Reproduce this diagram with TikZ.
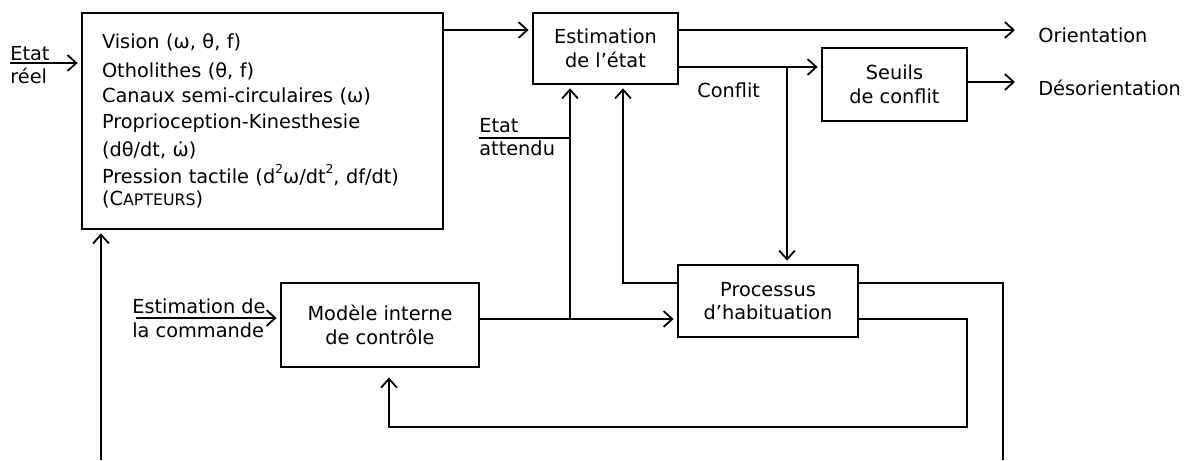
\documentclass[tikz,border=0pt]{standalone}
\usepackage{fontspec}
\setmainfont{DejaVu Sans}
\usetikzlibrary{arrows.meta}
\newcommand{\expo}[1]{\raisebox{0.5em}{\fontsize{7}{8}\selectfont #1}}
\begin{document}
\begin{tikzpicture}[x=0.02cm,y=-0.02cm]
        \tikzset{bloc/.style={draw, line width=1pt, align=center, inner sep=0pt, font=\fontsize{11}{13.5}\selectfont},
                 fleche/.style={line width=1pt, -{Straight Barb[length=5pt,width=9pt]}, shorten >=2pt},
                 texte/.style={inner sep=0pt, font=\fontsize{11}{13.5}\selectfont}}
        \useasboundingbox (0,0) rectangle (1189,460);

        \node [bloc, minimum width=7.22cm, minimum height=4.32cm, text width=6.42cm, align=left, font=\fontsize{11}{14.5}\selectfont] (capteurs) at (262.5,121)
          {Vision (ω, θ, f)\\[1.5pt]
           Otholithes (θ, f)\\
           Canaux semi-circulaires (ω)\\
           Proprioception-Kinesthesie\\[1.5pt]
           (dθ/dt, ω̇)\\[1pt]
           Pression tactile (d\expo{2}ω/dt\expo{2}, df/dt)\\[-2pt]
           (C{\fontsize{9}{11}\selectfont APTEURS})};
        \node [bloc, minimum width=2.9cm, minimum height=1.42cm] (estim) at (605.5,48.5) {Estimation\\de l’état};
        \node [bloc, minimum width=2.9cm, minimum height=1.46cm] (seuils) at (894.5,84.5) {Seuils\\de conflit};
        \node [bloc, minimum width=3.6cm, minimum height=1.44cm] (habit) at (768,301) {Processus\\d’habituation};
        \node [bloc, minimum width=3.96cm, minimum height=1.68cm] (modele) at (380,325) {Modèle interne\\de contrôle};

        \node [texte, anchor=base west] (etat) at (10,60) {Etat};
        \node [texte, anchor=base west] (reeltxt) at (10,83) {réel};
        \node [texte, anchor=base west] (orienttxt) at (1038,42) {Orientation};
        \node [texte, anchor=base west] (desortxt) at (1038,95) {Désorientation};
        \node [texte, anchor=base west] (conflittxt) at (697,97) {Conflit};
        \node [texte, anchor=base west] (etat2) at (479,132) {Etat};
        \node [texte, anchor=base west] (attendutxt) at (479,155) {attendu};
        \node [texte, anchor=base west] (cmd1) at (132,313) {Estimation de};
        \node [texte, anchor=base west] (cmd2) at (132,337) {la commande};

        \coordinate (reel) at (10,63);
        \coordinate (orient) at (1015,30);
        \coordinate (conflit) at (787,67);
        \coordinate (desorient) at (1015,82);
        \coordinate (attendu) at (570,319);
        \coordinate (etatatt) at (479,138);
        \coordinate (retour) at (623,283);
        \coordinate (commande) at (136,318);
        \coordinate (boucle) at (967,427);
        \coordinate (bas1) at (1003,460);
        \coordinate (bas2) at (101,460);

        \draw [fleche] (reel) -- (reel -| capteurs.west);
        \draw [fleche] (capteurs.east |- 0,30) -- (estim.west |- 0,30);
        \draw [fleche, shorten >=0pt] (estim.east |- orient) -- (orient);
        \draw [fleche] (estim.east |- conflit) -- (seuils.west |- conflit);
        \draw [fleche] (conflit) -- (conflit |- habit.north);
        \draw [fleche, shorten >=0pt] (seuils.east |- desorient) -- (desorient);
        \draw [fleche] (modele.east |- attendu) -- (habit.west |- attendu);
        \draw [fleche] (attendu) -- (attendu |- estim.south);
        \draw [line width=1pt] (etatatt) -- (etatatt -| attendu);
        \draw [fleche] (habit.west |- retour) -| (retour |- estim.south);
        \draw [fleche] (commande) -- (commande -| modele.west);
        \draw [fleche, shorten >=5.5pt] (habit.east |- attendu) -| (boucle) -| (modele.south -| 389,0);
        \draw [line width=1pt] (habit.east |- retour) -| (bas1);
        \draw [fleche] (bas2) -- (bas2 |- capteurs.south);
\end{tikzpicture}
\end{document}
